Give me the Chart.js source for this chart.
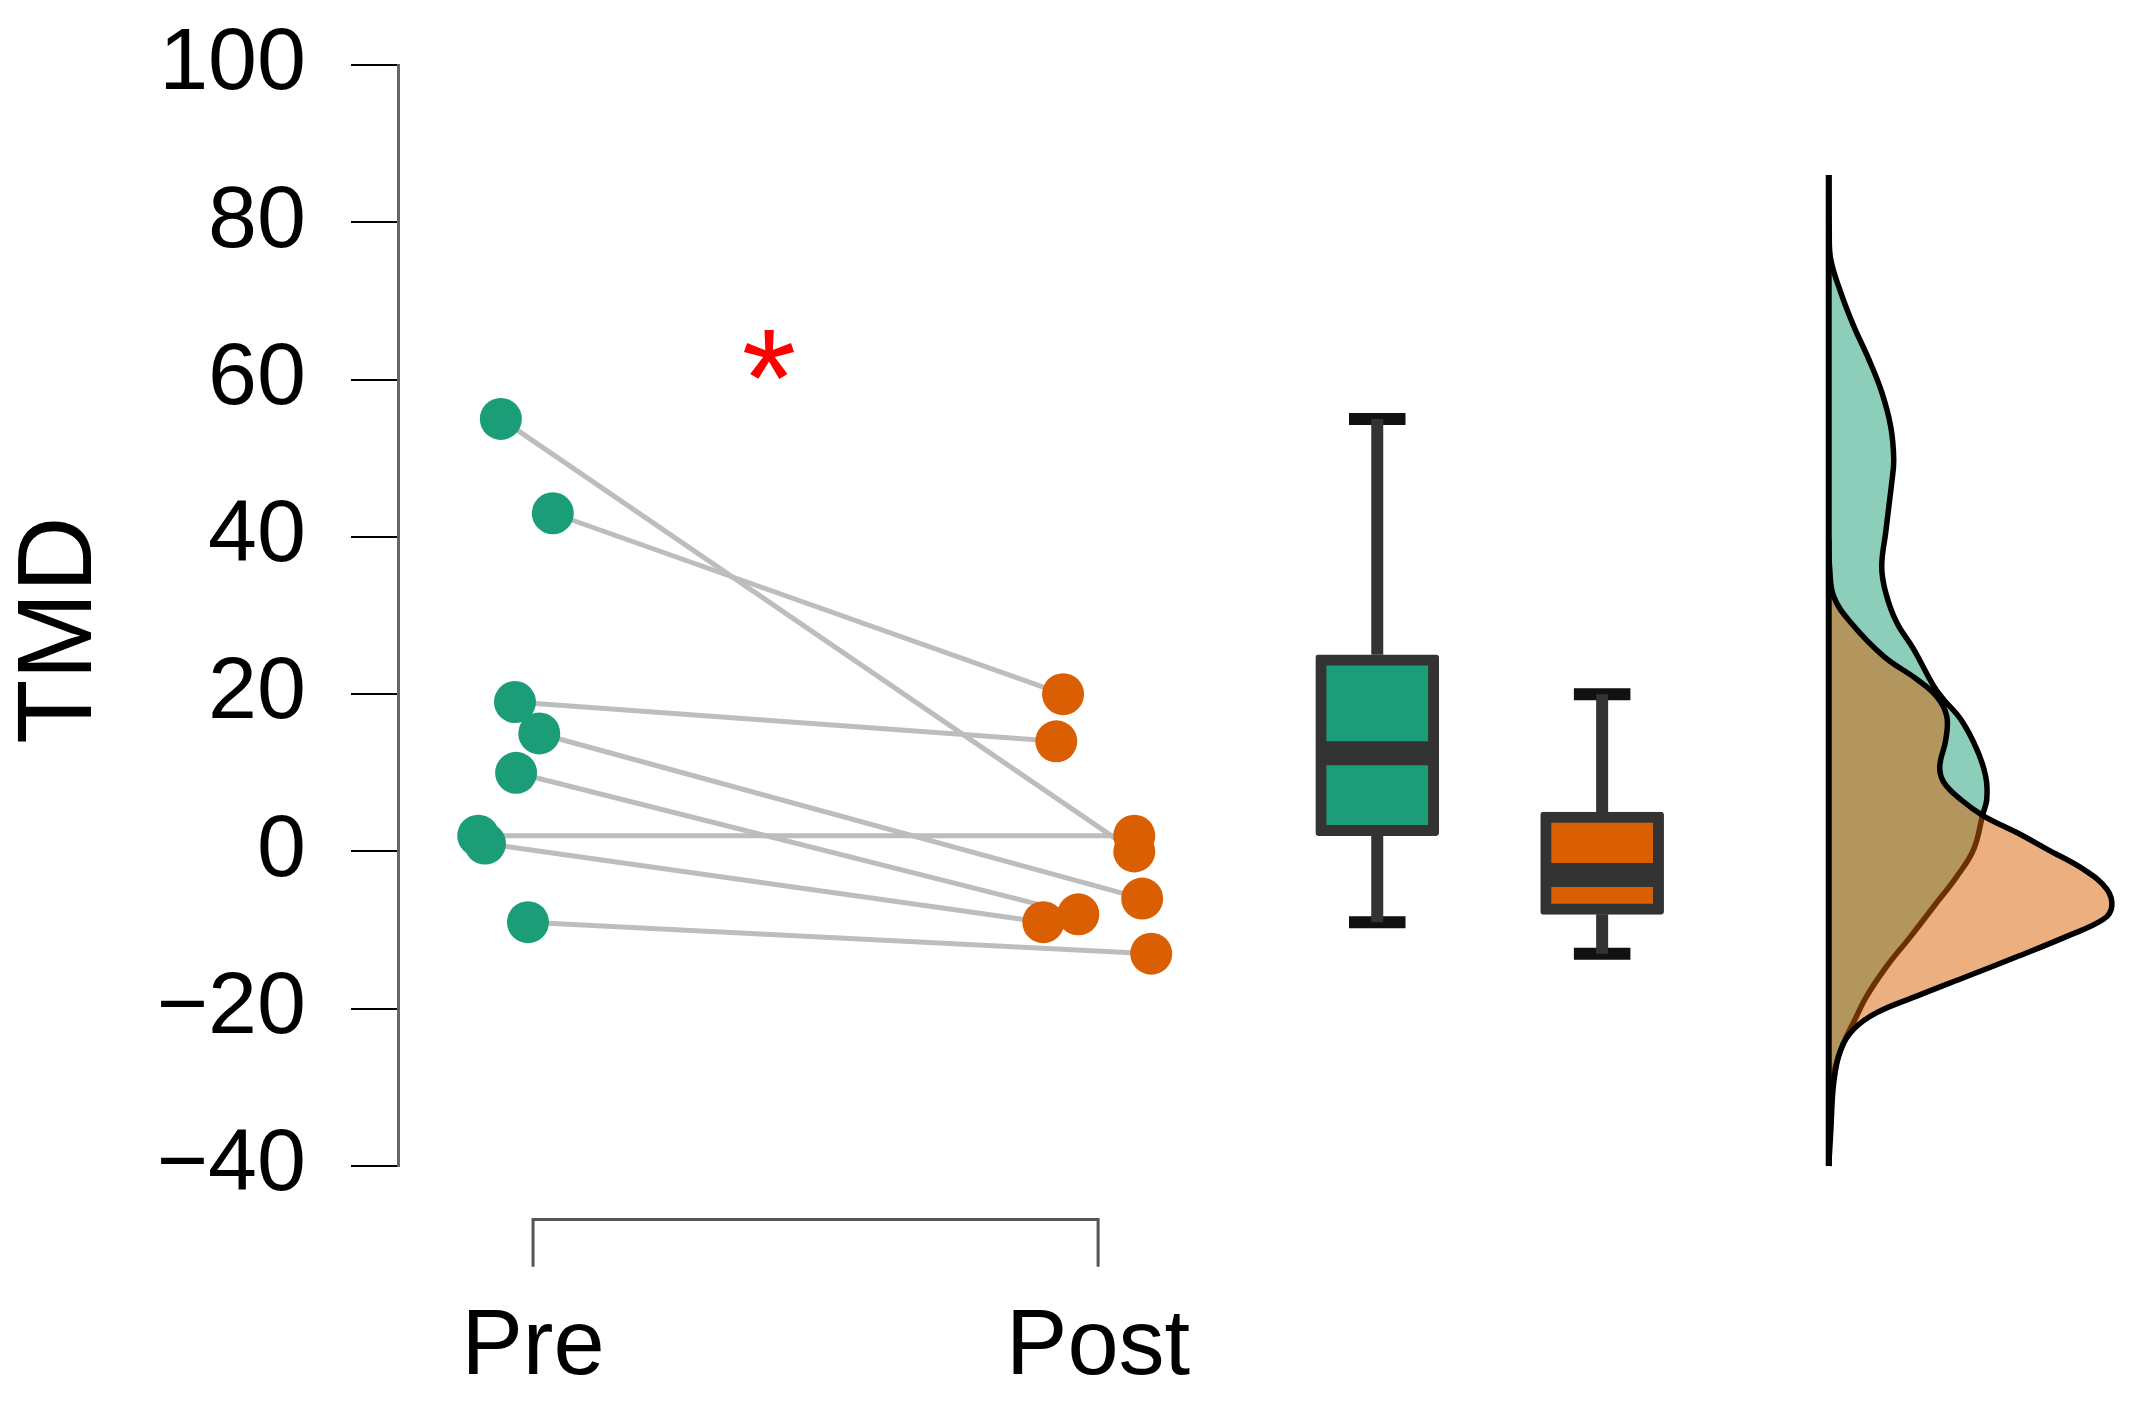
<!doctype html>
<html lang="en">
<head>
    <meta charset="utf-8">
    <title>TMD Pre / Post</title>
    <script src="https://cdn.jsdelivr.net/npm/chart.js"></script>
    <style>
        body { margin: 0; background: #fff; }
        #wrap { width: 2131px; height: 1403px; }
    </style>
</head>
<body>
<div id="wrap">
    <canvas id="tmdChart" width="2131" height="1403"></canvas>
</div>
<script>
    // groups and paired values (pre[i] is joined to post[i])
    const groups = ['Pre', 'Post'];
    const preTMD = [55, 43, 19, 15, 10, 2, 1, -9];
    const postTMD = [0, 20, 14, -6, -8, 2, -9, -13];
    // horizontal jitter of each point around its group
    const preJitter = [-0.057, 0.035, -0.032, 0.011, -0.030, -0.097, -0.085, -0.009];
    const postJitter = [0.064, -0.062, -0.074, 0.078, -0.035, 0.064, -0.097, 0.094];

    // box plot summaries, Pre then Post
    const boxMin = [-9, -13];
    const boxQ1 = [2, -8];
    const boxMedian = [12.5, -3];
    const boxQ3 = [25, 5];
    const boxMax = [55, 20];

    // half-violin densities (arbitrary units) at the given TMD values
    const preDensY = [86, 79, 75.3, 71.1, 66.8, 62.6, 58.4, 54, 49.8, 46.9, 44.8, 40.6, 36.2, 32.9, 29.1, 25.7, 21, 19.3,
        16.8, 13, 9.5, 6.6, 4.7, 0.3, -3.2, -7, -10.8, -14.6, -18.4, -21.7, -24.3, -27.7, -31.5, -36, -40];
    const preDens = [0, 0.0005, 0.002, 0.012, 0.025, 0.040, 0.053, 0.062, 0.065, 0.063, 0.061, 0.057, 0.053, 0.057, 0.068,
        0.085, 0.105, 0.115, 0.132, 0.148, 0.157, 0.158, 0.154, 0.145, 0.128, 0.105, 0.082, 0.058, 0.038, 0.025, 0.015,
        0.006, 0.003, 0.001, 0];
    const postDensY = [39.7, 35.9, 32.4, 29.1, 24.8, 21.9, 19.7, 17.2, 14.2, 10.8, 8.8, 6.6, 4.5, 2.4, 0.3, -2.3, -4.8, -7,
        -8.6, -10.8, -13.4, -15.9, -18.4, -20.5, -22.6, -25.2, -29.4, -35.7, -40];
    const postDens = [0, 0.001, 0.005, 0.022, 0.055, 0.088, 0.108, 0.118, 0.117, 0.111, 0.115, 0.132, 0.155, 0.188, 0.218,
        0.255, 0.278, 0.283, 0.275, 0.238, 0.188, 0.138, 0.088, 0.048, 0.025, 0.012, 0.005, 0.002, 0];

    // layout on the x axis (Pre = 1, Post = 2)
    const BOX_X = [2.494, 2.892];
    const DENS_X = 3.293;
    const DENS_SCALE = 1.77;
    const SIG_X = 1.418, SIG_Y = 63.2;
    const BRACKET_Y = -46.8, BRACKET_TICK_Y = -52.8;

    const green = '#1b9e77';
    const orange = '#d95f02';

    Chart.defaults.font.family = "'Liberation Sans', Arial, sans-serif";
    Chart.defaults.color = '#000';

    var datasets = [];

    // grey lines joining each subject's Pre and Post value
    for (var i = 0; i < preTMD.length; i++) {
        datasets.push({
            type: 'line',
            data: [{x: 1 + preJitter[i], y: preTMD[i]}, {x: 2 + postJitter[i], y: postTMD[i]}],
            borderColor: '#bdbdbd',
            borderWidth: 5,
            pointRadius: 0,
            fill: false,
            order: 6
        });
    }

    datasets.push({
        type: 'scatter',
        data: preTMD.map((v, i) => ({x: 1 + preJitter[i], y: v})),
        backgroundColor: green,
        borderWidth: 0,
        pointRadius: 21,
        pointHoverRadius: 21,
        order: 1
    });
    datasets.push({
        type: 'scatter',
        data: postTMD.map((v, i) => ({x: 2 + postJitter[i], y: v})),
        backgroundColor: orange,
        borderWidth: 0,
        pointRadius: 21,
        pointHoverRadius: 21,
        order: 1
    });

    // boxes
    datasets.push({
        type: 'bar',
        data: BOX_X.map((bx, i) => ({x: bx, y: [boxQ1[i], boxQ3[i]]})),
        backgroundColor: [green, orange],
        borderColor: '#333333',
        borderWidth: 11,
        borderSkipped: false,
        borderRadius: 3,
        barThickness: 123,
        order: 5
    });

    BOX_X.forEach(function (bx, i) {
        // whiskers
        datasets.push({type: 'line', data: [{x: bx, y: boxQ3[i]}, {x: bx, y: boxMax[i]}],
            borderColor: '#333333', borderWidth: 12, pointRadius: 0, order: 4});
        datasets.push({type: 'line', data: [{x: bx, y: boxQ1[i]}, {x: bx, y: boxMin[i]}],
            borderColor: '#333333', borderWidth: 12, pointRadius: 0, order: 4});
        // caps
        datasets.push({type: 'line', data: [{x: bx - 0.05, y: boxMax[i]}, {x: bx + 0.05, y: boxMax[i]}],
            borderColor: '#111111', borderWidth: 12, pointRadius: 0, order: 4});
        datasets.push({type: 'line', data: [{x: bx - 0.05, y: boxMin[i]}, {x: bx + 0.05, y: boxMin[i]}],
            borderColor: '#111111', borderWidth: 12, pointRadius: 0, order: 4});
        // median
        datasets.push({type: 'line', data: [{x: bx - 0.1, y: boxMedian[i]}, {x: bx + 0.1, y: boxMedian[i]}],
            borderColor: '#333333', borderWidth: 24, pointRadius: 0, order: 3});
    });

    // half violins
    datasets.push({
        type: 'line',
        data: preDensY.map((v, i) => ({x: DENS_X + preDens[i] * DENS_SCALE, y: v})),
        fill: 'shape',
        backgroundColor: 'rgba(27, 158, 119, 0.5)',
        borderColor: '#000',
        borderWidth: 5.5,
        tension: 0.4,
        pointRadius: 0,
        clip: false,
        order: 9
    });
    datasets.push({
        type: 'line',
        data: postDensY.map((v, i) => ({x: DENS_X + postDens[i] * DENS_SCALE, y: v})),
        fill: 'shape',
        backgroundColor: 'rgba(217, 95, 2, 0.5)',
        borderColor: '#000',
        borderWidth: 5.5,
        tension: 0.4,
        pointRadius: 0,
        clip: false,
        order: 8
    });
    datasets.push({
        type: 'line',
        data: [{x: DENS_X, y: preDensY[0]}, {x: DENS_X, y: preDensY[preDensY.length - 1]}],
        borderColor: '#000',
        borderWidth: 6,
        pointRadius: 0,
        clip: false,
        order: 0
    });

    // bracket under the two groups
    datasets.push({
        type: 'line',
        data: [{x: 1, y: BRACKET_TICK_Y}, {x: 1, y: BRACKET_Y}, {x: 2, y: BRACKET_Y}, {x: 2, y: BRACKET_TICK_Y}],
        borderColor: '#555555',
        borderWidth: 3,
        pointRadius: 0,
        clip: false,
        order: 7
    });

    const sigStar = {
        id: 'sigStar',
        afterDatasetsDraw(chart) {
            const ctx = chart.ctx;
            const px = chart.scales.x.getPixelForValue(SIG_X);
            const py = chart.scales.y.getPixelForValue(SIG_Y);
            ctx.save();
            ctx.font = "140px 'Liberation Sans', Arial, sans-serif";
            ctx.fillStyle = '#ff0000';
            ctx.textAlign = 'left';
            ctx.textBaseline = 'alphabetic';
            const m = ctx.measureText('*');
            ctx.fillText('*', px - (m.actualBoundingBoxRight - m.actualBoundingBoxLeft) / 2,
                py + (m.actualBoundingBoxAscent - m.actualBoundingBoxDescent) / 2);
            ctx.restore();
        }
    };

    new Chart(document.getElementById('tmdChart'), {
        type: 'scatter',
        data: {datasets: datasets},
        plugins: [sigStar],
        options: {
            responsive: false,
            devicePixelRatio: 1,
            animation: false,
            events: [],
            layout: {padding: {top: 65, right: 22, bottom: 0, left: 0}},
            plugins: {
                legend: {display: false},
                tooltip: {enabled: false}
            },
            scales: {
                x: {
                    type: 'linear',
                    min: 0.761,
                    max: 3.789,
                    offset: false,
                    afterFit: function (scale) { scale.height = 237; },
                    afterBuildTicks: function (scale) { scale.ticks = [{value: 1}, {value: 2}]; },
                    ticks: {
                        autoSkip: false,
                        maxRotation: 0,
                        padding: 127,
                        color: '#000',
                        font: {size: 92},
                        callback: function (v) { return groups[v - 1]; }
                    },
                    grid: {display: false, drawTicks: false, offset: false},
                    border: {display: false}
                },
                y: {
                    type: 'linear',
                    min: -40,
                    max: 100,
                    afterFit: function (scale) {
                        scale.width = 398;
                        // label padding is horizontal only, keep it out of the top/bottom margins
                        scale.paddingTop = 0;
                        scale.paddingBottom = 0;
                    },
                    ticks: {
                        stepSize: 20,
                        padding: 45,
                        color: '#000',
                        font: {size: 88},
                        callback: function (v) { return v < 0 ? '\u2212' + Math.abs(v) : String(v); }
                    },
                    grid: {drawOnChartArea: false, drawTicks: true, tickLength: 47, color: '#000', lineWidth: 2},
                    border: {display: true, color: '#666666', width: 3},
                    title: {
                        display: true,
                        text: 'TMD ',
                        color: '#000',
                        font: {size: 105, lineHeight: 1},
                        padding: {top: 10, bottom: 0}
                    }
                }
            }
        }
    });
</script>
</body>
</html>
